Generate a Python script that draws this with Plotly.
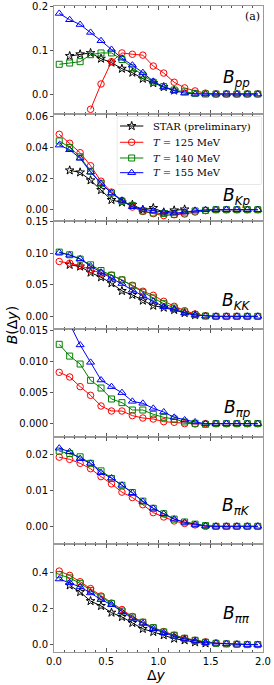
import plotly.graph_objects as go
from plotly.subplots import make_subplots

dy = [0.05, 0.15, 0.25, 0.35, 0.45, 0.55, 0.65, 0.75, 0.85, 0.95,
      1.05, 1.15, 1.25, 1.35, 1.45, 1.55, 1.65, 1.75, 1.85, 1.95]

# ---- B_pp ----
pp_star = [None, 0.087, 0.091, 0.094, 0.081, 0.072, 0.058, 0.049, 0.035, 0.025,
           0.016, 0.008, None, None, None, None, None, None, None, None]
pp_125 = [None, None, None, -0.035, 0.023, 0.074, 0.094, 0.091, 0.089, 0.064,
          0.048, 0.027, 0.014, 0.007, 0.002, 0.0, 0.0, 0.0, 0.0, 0.0]
pp_140 = [0.068, 0.071, 0.074, 0.090, 0.094, 0.094, 0.079, 0.060, 0.043, 0.027,
          0.017, 0.009, 0.005, 0.0015, 0.0, 0.0, 0.0, 0.0, 0.0, 0.0]
pp_155 = [0.1845, 0.170, 0.159, 0.141, 0.122, 0.102, 0.082, 0.066, 0.049, 0.029,
          0.016, 0.008, 0.002, 0.0, 0.0, 0.0, 0.0, 0.0, 0.0, 0.0]

# ---- B_Kp ----
kp_star = [None, 0.0254, 0.0241, 0.0190, 0.0127, 0.0063, 0.0047, 0.0032, 0.0, 0.0011,
           -0.0017, -0.0004, 0.0002, None, None, None, None, None, None, None]
kp_125 = [0.0487, 0.0429, 0.0368, 0.0284, 0.0184, 0.0114, 0.0059, 0.0017, -0.0011, -0.0025,
          -0.0038, -0.0032, -0.0028, -0.0015, -0.0006, 0.0, 0.0, 0.0, 0.0, 0.0]
kp_140 = [0.0444, 0.0402, 0.0341, 0.0248, 0.0171, 0.0108, 0.0055, 0.0028, -0.0008, -0.0021,
          -0.0025, -0.0030, -0.0021, -0.0008, -0.0004, 0.0, 0.0, 0.0, 0.0, 0.0]
kp_155 = [0.0417, 0.0387, 0.0332, 0.0243, 0.0169, 0.0108, 0.0061, 0.0019, 0.0002, -0.0008,
          -0.0015, -0.0023, -0.0015, -0.0004, 0.0, 0.0, 0.0, 0.0, 0.0, 0.0]

# ---- B_KK ----
kk_star = [None, 0.0815, 0.0788, 0.0693, 0.0619, 0.0524, 0.0402, 0.0339, 0.0249, 0.0169,
           0.0138, 0.0101, 0.0053, 0.0020, None, None, None, None, None, None]
kk_125 = [0.0868, 0.0841, 0.0799, 0.0735, 0.0683, 0.0651, 0.0577, 0.0492, 0.0397, 0.0333,
          0.0238, 0.0159, 0.0090, 0.0037, 0.0010, 0.0, 0.0, 0.0, 0.0, 0.0]
kk_140 = [0.1016, 0.0974, 0.0905, 0.0815, 0.0725, 0.0651, 0.0577, 0.0481, 0.0381, 0.0291,
          0.0201, 0.0132, 0.0069, 0.0026, 0.0005, 0.0, 0.0, 0.0, 0.0, 0.0]
kk_155 = [0.1011, 0.0968, 0.0910, 0.0794, 0.0698, 0.0603, 0.0519, 0.0413, 0.0323, 0.0238,
          0.0153, 0.0111, 0.0053, 0.0021, 0.0005, 0.0, 0.0, 0.0, 0.0, 0.0]

# ---- B_pi p ----
pip_125 = [0.00828, 0.00753, 0.00597, 0.00457, 0.00285, 0.00204, 0.00204, 0.00129, 0.00091, 0.00075,
           0.00032, 0.00022, 0.0, -0.00005, 0.0, 0.0, 0.0, 0.0, 0.0, 0.0]
pip_140 = [0.0128, 0.0109, 0.00962, 0.00699, 0.00575, 0.00398, 0.00339, 0.00220, 0.00220, 0.00151,
           0.00102, 0.00075, 0.00027, 0.00005, -0.0001, 0.0, 0.0, 0.0, 0.0, 0.0]
pip_155 = [0.0195, 0.0160, 0.0127, 0.00989, 0.00704, 0.00597, 0.0050, 0.0036, 0.00328, 0.00247,
           0.00188, 0.00102, 0.00059, 0.00027, 0.0, 0.0, 0.0, 0.0, 0.0, 0.0]

# ---- B_pi K ----
pik_125 = [0.0192, 0.0186, 0.0175, 0.0160, 0.0138, 0.0118, 0.0095, 0.0080, 0.0060, 0.0038,
           0.0026, 0.0015, 0.0008, 0.0004, 0.0, 0.0, 0.0, 0.0, 0.0, 0.0]
pik_140 = [0.0209, 0.0202, 0.0193, 0.0175, 0.0154, 0.0133, 0.0114, 0.0094, 0.0070, 0.0050,
           0.0035, 0.0020, 0.0012, 0.0006, 0.0002, 0.0, 0.0, 0.0, 0.0, 0.0]
pik_155 = [0.0217, 0.0207, 0.0188, 0.0175, 0.0149, 0.0134, 0.0114, 0.0093, 0.0069, 0.0050,
           0.0035, 0.0020, 0.0011, 0.0005, 0.0001, 0.0, 0.0, 0.0, 0.0, 0.0]

# ---- B_pi pi ----
pipi_star = [None, 0.328, 0.291, 0.241, 0.214, 0.177, 0.153, 0.120, 0.087, 0.070,
             0.052, 0.033, 0.024, 0.013, 0.007, None, None, None, None, None]
pipi_125 = [0.407, 0.383, 0.348, 0.310, 0.269, 0.230, 0.194, 0.155, 0.124, 0.094,
            0.072, 0.052, 0.035, 0.024, 0.015, 0.009, 0.005, 0.002, 0.001, 0.0]
pipi_140 = [0.387, 0.369, 0.339, 0.300, 0.264, 0.227, 0.186, 0.153, 0.124, 0.094,
            0.070, 0.052, 0.035, 0.024, 0.013, 0.007, 0.004, 0.002, 0.0, 0.0]
pipi_155 = [0.363, 0.343, 0.319, 0.286, 0.249, 0.221, 0.181, 0.146, 0.118, 0.088,
            0.066, 0.046, 0.031, 0.020, 0.011, 0.007, 0.004, 0.002, 0.0, 0.0]

panel_labels = ["<i>B</i><sub><i>pp</i></sub>", "<i>B</i><sub><i>Kp</i></sub>",
                "<i>B</i><sub><i>KK</i></sub>", "<i>B</i><sub><i>πp</i></sub>",
                "<i>B</i><sub><i>πK</i></sub>", "<i>B</i><sub><i>ππ</i></sub>"]
series_names = ["STAR (preliminary)", "<i>T</i> = 125 MeV", "<i>T</i> = 140 MeV", "<i>T</i> = 155 MeV"]

panels = [
    [pp_star, pp_125, pp_140, pp_155],
    [kp_star, kp_125, kp_140, kp_155],
    [kk_star, kk_125, kk_140, kk_155],
    [None, pip_125, pip_140, pip_155],
    [None, pik_125, pik_140, pik_155],
    [pipi_star, pipi_125, pipi_140, pipi_155],
]

y_ranges = [[-0.045, 0.2015], [-0.0075, 0.062], [-0.02, 0.1503],
            [-0.0021, 0.01527], [-0.005, 0.0249], [-0.041, 0.555]]
y_dticks = [0.1, 0.02, 0.05, 0.005, 0.01, 0.2]
y_formats = [".1f", ".2f", ".2f", ".3f", ".2f", ".1f"]
label_pos = [0.325, 0.233, 0.256, 0.257, 0.347, 0.344]

colors = ["#000000", "#ff0000", "#008000", "#0000ff"]
symbols = ["star-open", "circle-open", "square-open", "triangle-up-open"]
msizes = [6.5, 6.5, 6, 7]

fig = make_subplots(rows=6, cols=1, shared_xaxes=True, vertical_spacing=0)

for i, series in enumerate(panels):
    row = i + 1
    fig.add_hline(y=0, line=dict(color="#999999", width=1, dash="dash"),
                  layer="below", row=row, col=1)
    for j, vals in enumerate(series):
        if vals is None:
            continue
        fig.add_trace(go.Scatter(
            x=dy, y=vals, mode="lines+markers", name=series_names[j],
            line=dict(color=colors[j], width=1),
            marker=dict(symbol=symbols[j], size=msizes[j], color=colors[j],
                        line=dict(width=1, color=colors[j])),
            showlegend=False, cliponaxis=True, connectgaps=False,
        ), row=row, col=1)

axis_line = "#9a9a9a"
for i in range(6):
    row = i + 1
    fig.update_yaxes(range=y_ranges[i], dtick=y_dticks[i], tick0=0, tickformat=y_formats[i],
                     showgrid=False, zeroline=False, showline=True, mirror=True,
                     linecolor=axis_line, linewidth=1, ticks="outside", ticklen=3,
                     tickcolor="#555555", automargin=False,
                     tickfont=dict(family="DejaVu Sans", size=10, color="black"),
                     row=row, col=1)
    fig.update_xaxes(range=[0, 2], dtick=0.5, tick0=0, showgrid=False, zeroline=False,
                     showline=True, mirror="allticks", linecolor=axis_line, linewidth=1,
                     ticks="inside", ticklen=4, tickcolor="#555555", automargin=False,
                     minor=dict(dtick=0.1, ticks="inside", ticklen=2, tickcolor="#555555"),
                     showticklabels=(row == 6), tickformat=".1f",
                     tickfont=dict(family="DejaVu Sans", size=10, color="black"),
                     row=row, col=1)
    yref = "y domain" if row == 1 else f"y{row} domain"
    xref = "x domain" if row == 1 else f"x{row} domain"
    fig.add_annotation(text=panel_labels[i], xref=xref, yref=yref, x=0.947, y=label_pos[i],
                       xanchor="right", yanchor="middle", showarrow=False,
                       font=dict(family="DejaVu Sans", size=17, color="black"))

# ---- legend drawn in its own small box subplot ----
leg_rows = [0.862, 0.620, 0.386, 0.168]
fig.update_layout(
    xaxis7=dict(domain=[0.303, 0.990], anchor="y7", range=[0, 1], visible=False, fixedrange=True),
    yaxis7=dict(domain=[0.7245, 0.8286], anchor="x7", range=[0, 1], visible=False, fixedrange=True),
)
for j in range(4):
    fig.add_trace(go.Scatter(
        x=[0.019, 0.181], y=[leg_rows[j], leg_rows[j]], mode="lines",
        line=dict(color=colors[j], width=1), showlegend=False, hoverinfo="skip",
        xaxis="x7", yaxis="y7"))
    fig.add_trace(go.Scatter(
        x=[0.10], y=[leg_rows[j]], mode="markers",
        marker=dict(symbol=symbols[j], size=msizes[j], color=colors[j],
                    line=dict(width=1, color=colors[j])),
        showlegend=False, hoverinfo="skip", xaxis="x7", yaxis="y7"))
    fig.add_annotation(text=series_names[j], xref="x7", yref="y7", x=0.235, y=leg_rows[j],
                       xanchor="left", yanchor="middle", showarrow=False,
                       font=dict(family="DejaVu Serif", size=10, color="black"))
fig.add_shape(type="rect", xref="x7 domain", yref="y7 domain", x0=0, x1=1, y0=0, y1=1,
              line=dict(color="#cccccc", width=1), fillcolor="rgba(255,255,255,0.8)", layer="below")

fig.add_annotation(text="Δ<i>y</i>", xref="paper", yref="paper", x=0.49, y=-0.0356,
                   xanchor="center", yanchor="middle", showarrow=False,
                   font=dict(family="DejaVu Sans", size=14, color="black"))
fig.add_annotation(text="<i>B</i>(Δ<i>y</i>)", xref="paper", yref="paper", x=-0.2, y=0.506,
                   textangle=-90, showarrow=False, xanchor="center", yanchor="middle",
                   font=dict(family="DejaVu Sans", size=14, color="black"))
fig.add_annotation(text="(a)", xref="paper", yref="paper", x=0.995, y=0.983,
                   xanchor="right", yanchor="middle", showarrow=False,
                   font=dict(family="DejaVu Serif", size=11, color="black"))

fig.update_layout(
    width=274, height=685,
    margin=dict(l=54, r=11, t=6, b=33, autoexpand=False),
    paper_bgcolor="white", plot_bgcolor="white",
    showlegend=False,
)

fig.write_html("out.html", config={"displayModeBar": False, "staticPlot": True},
               post_script="document.body.style.margin='0';document.body.style.padding='0';"
                           "document.documentElement.style.overflow='hidden';")
